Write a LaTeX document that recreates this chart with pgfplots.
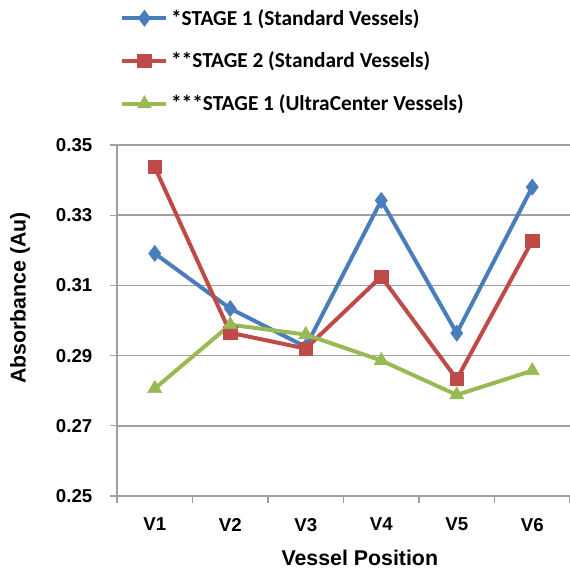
\documentclass[border=0pt]{standalone}
\usepackage{fontspec}
\setmainfont{Liberation Sans}
\newfontfamily\legfont{Carlito}
\usepackage{pgfplots}
\pgfplotsset{compat=1.18}

\definecolor{s1}{HTML}{4A7EBB}
\definecolor{s2}{HTML}{BE4B48}
\definecolor{s3}{HTML}{98B954}
\definecolor{axgray}{HTML}{A0A0A0}

\begin{document}
\begin{tikzpicture}[x=1pt,y=1pt]
% 1px = 0.75pt, axis box at origin
\useasboundingbox (-87.75,-56.25) rectangle (339.75,372);
\begin{axis}[
    at={(0,0)}, anchor=south west,
    scale only axis,
    width=339.75pt, height=263.25pt,
    xmin=-0.5, xmax=5.5,
    ymin=0.25, ymax=0.35,
    xtick={0,...,5},
    xticklabels={V1,V2,V3,V4,V5,V6},
    minor xtick={-0.5,0.5,...,5.5},
    ytick={0.25,0.27,...,0.351},
    major x tick style={draw=none},
    tick align=outside,
    minor tick length=5pt,
    major tick length=5pt,
    tick style={axgray, line width=1pt},
    axis x line*=bottom,
    axis y line*=left,
    axis line style={axgray, line width=1.2pt, -},
    ymajorgrids,
    grid style={axgray, line width=1.2pt},
    /pgf/number format/assume math mode=true,
    /pgf/number format/.cd, fixed, fixed zerofill, precision=2, /pgfplots/.cd,
    yticklabel style={font=\fontsize{14}{16}\selectfont\bfseries, xshift=-10pt},
    xticklabel style={font=\fontsize{14}{16}\selectfont\bfseries, yshift=-8pt},
    xlabel={Vessel Position},
    ylabel={Absorbance (Au)},
    xlabel style={font=\fontsize{16}{18}\selectfont\bfseries, at={(rel axis cs:0.536,-0.177)}, anchor=center},
    ylabel style={font=\fontsize{16}{18}\selectfont\bfseries, at={(rel axis cs:-0.214,0.564)}, anchor=center},
    clip=false,
    legend style={font=\legfont\fontsize{16}{18}\selectfont\bfseries, draw=none, fill=none,
        at={(rel axis cs:0.007,1.395)}, anchor=north west, row sep=14.75pt, inner sep=0pt},
    legend cell align=left,
    legend image code/.code={\draw[mark repeat=2,mark phase=2] plot coordinates {(0pt,0pt)(16.5pt,0pt)(33pt,0pt)};},
    every axis plot/.append style={line width=3pt},
]
\addplot[s1, mark=diamond*, mark size=6pt, mark options={solid, line width=0.5pt}]
    coordinates {(0,0.3191) (1,0.3034) (2,0.2925) (3,0.3342) (4,0.2964) (5,0.3380)};
\addplot[s2, mark=square*, mark size=5pt, mark options={solid, line width=0.5pt}]
    coordinates {(0,0.3437) (1,0.2965) (2,0.2920) (3,0.3125) (4,0.2833) (5,0.3227)};
\addplot[s3, mark=triangle*, mark size=6pt, mark options={solid, line width=0.5pt}]
    coordinates {(0,0.2806) (1,0.2988) (2,0.2960) (3,0.2886) (4,0.2788) (5,0.2857)};
\legend{*STAGE 1 (Standard Vessels), **STAGE 2 (Standard Vessels), ***STAGE 1 (UltraCenter Vessels)}
\end{axis}
\end{tikzpicture}
\end{document}
